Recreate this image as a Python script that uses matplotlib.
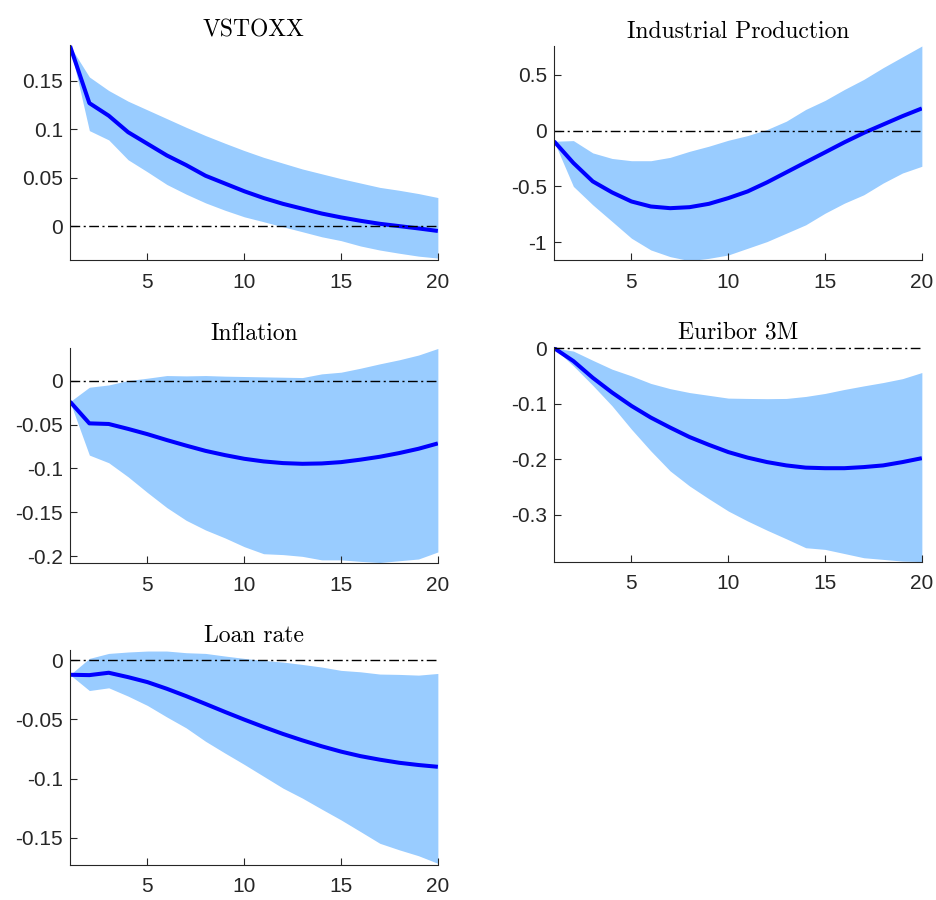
import matplotlib

matplotlib.use("Agg")
import matplotlib.pyplot as plt
import numpy as np
from matplotlib.ticker import FuncFormatter

plt.rcParams["axes.unicode_minus"] = False
plt.rcParams["font.family"] = ["Liberation Sans", "DejaVu Sans"]

horizon = np.arange(1, 21)

titles = ["VSTOXX", "Industrial Production", "Inflation", "Euribor 3M", "Loan rate"]

vstoxx_med = [0.186, 0.127, 0.114, 0.097, 0.085, 0.073, 0.063, 0.052, 0.044, 0.036,
              0.029, 0.023, 0.018, 0.013, 0.009, 0.0055, 0.0024, 0.0, -0.0024, -0.005]
vstoxx_hi = [0.186, 0.154, 0.140, 0.129, 0.120, 0.111, 0.102, 0.0935, 0.0856, 0.078,
             0.071, 0.065, 0.059, 0.054, 0.049, 0.0445, 0.040, 0.037, 0.0336, 0.0295]
vstoxx_lo = [0.186, 0.0986, 0.089, 0.0685, 0.056, 0.043, 0.033, 0.024, 0.0164, 0.0096,
             0.0045, -0.0007, -0.0058, -0.011, -0.015, -0.0205, -0.0247, -0.028, -0.031, -0.033]

ip_med = [-0.096, -0.29, -0.455, -0.554, -0.635, -0.68, -0.695, -0.686, -0.656, -0.605,
          -0.545, -0.464, -0.374, -0.284, -0.195, -0.105, -0.021, 0.054, 0.129, 0.198]
ip_hi = [-0.096, -0.09, -0.2, -0.25, -0.27, -0.27, -0.24, -0.186, -0.14, -0.087,
         -0.045, 0.009, 0.084, 0.189, 0.27, 0.368, 0.458, 0.563, 0.66, 0.757]
ip_lo = [-0.096, -0.5, -0.665, -0.814, -0.964, -1.069, -1.129, -1.165, -1.144, -1.114,
         -1.054, -0.994, -0.919, -0.844, -0.74, -0.65, -0.575, -0.47, -0.38, -0.32]

infl_med = [-0.024, -0.0487, -0.0494, -0.055, -0.061, -0.0677, -0.074, -0.080, -0.0848, -0.089,
            -0.092, -0.0939, -0.0947, -0.0943, -0.0928, -0.090, -0.0867, -0.0825, -0.0776, -0.0715]
infl_hi = [-0.024, -0.0076, -0.005, 0.0, 0.0027, 0.0057, 0.0053, 0.0057, 0.005, 0.0046,
           0.0042, 0.0038, 0.0034, 0.0076, 0.0095, 0.014, 0.019, 0.0236, 0.029, 0.0365]
infl_lo = [-0.024, -0.0848, -0.0935, -0.1095, -0.1274, -0.1445, -0.159, -0.170, -0.179, -0.189,
           -0.197, -0.198, -0.200, -0.204, -0.204, -0.2057, -0.207, -0.205, -0.203, -0.195]

eur_med = [0.0, -0.0234, -0.0534, -0.080, -0.104, -0.125, -0.143, -0.16, -0.174, -0.187,
           -0.197, -0.205, -0.211, -0.215, -0.216, -0.216, -0.214, -0.211, -0.205, -0.198]
eur_hi = [0.0, -0.0054, -0.022, -0.038, -0.050, -0.0636, -0.073, -0.080, -0.085, -0.090,
          -0.0906, -0.091, -0.0906, -0.087, -0.0816, -0.0744, -0.068, -0.062, -0.055, -0.044]
eur_lo = [0.0, -0.032, -0.067, -0.104, -0.146, -0.185, -0.221, -0.248, -0.271, -0.293,
          -0.311, -0.3275, -0.343, -0.359, -0.362, -0.3695, -0.377, -0.380, -0.383, -0.384]

loan_med = [-0.0124, -0.0127, -0.0107, -0.0144, -0.0186, -0.0242, -0.0304, -0.037, -0.0437, -0.0502,
            -0.0564, -0.0623, -0.0677, -0.0727, -0.0772, -0.081, -0.084, -0.0866, -0.0885, -0.090]
loan_hi = [-0.0124, 0.0014, 0.0056, 0.0068, 0.0076, 0.0076, 0.0062, 0.0056, 0.0034, 0.0014,
           -0.0003, -0.0017, -0.0037, -0.0059, -0.0087, -0.0099, -0.0118, -0.0121, -0.0127, -0.0113]
loan_lo = [-0.0124, -0.0257, -0.0234, -0.0304, -0.0383, -0.048, -0.0572, -0.0685, -0.0784, -0.088,
           -0.098, -0.108, -0.1164, -0.1257, -0.1348, -0.1446, -0.1545, -0.160, -0.165, -0.1714]

medians = [vstoxx_med, ip_med, infl_med, eur_med, loan_med]
uppers = [vstoxx_hi, ip_hi, infl_hi, eur_hi, loan_hi]
lowers = [vstoxx_lo, ip_lo, infl_lo, eur_lo, loan_lo]

yticks = [
    [0, 0.05, 0.1, 0.15],
    [-1, -0.5, 0, 0.5],
    [-0.2, -0.15, -0.1, -0.05, 0],
    [-0.3, -0.2, -0.1, 0],
    [-0.15, -0.1, -0.05, 0],
]
ylims = [(-0.035, 0.187), (-1.159, 0.757), (-0.2076, 0.037), (-0.3846, 0.002), (-0.1728, 0.0085)]

# axes rectangles in figure fractions (left, bottom, width, height)
positions = [
    (0.0748, 0.7111, 0.393, 0.2389),
    (0.5919, 0.7111, 0.393, 0.2378),
    (0.0748, 0.3744, 0.393, 0.2389),
    (0.5919, 0.3756, 0.393, 0.2389),
    (0.0748, 0.0389, 0.393, 0.2389),
]

fig = plt.figure(figsize=(9.36, 9.0), dpi=100)
fmt = FuncFormatter(lambda v, _: f"{v:g}")

for i in range(5):
    ax = fig.add_axes(positions[i])
    ax.fill_between(horizon, lowers[i], uppers[i], color="#99ccff", linewidth=0)
    ax.plot(horizon, medians[i], color="#0000ff", linewidth=2.9, solid_capstyle="butt")
    ax.plot(horizon, np.zeros(len(horizon)), color="black",
            linestyle=(0, (7, 2.5, 1.5, 2.5)), linewidth=1.0)
    ax.set_xlim(1, 20)
    ax.set_ylim(*ylims[i])
    ax.set_xticks([5, 10, 15, 20])
    ax.set_yticks(yticks[i])
    ax.yaxis.set_major_formatter(fmt)
    for side in ("top", "right"):
        ax.spines[side].set_visible(False)
    for side in ("left", "bottom"):
        ax.spines[side].set_color("#262626")
        ax.spines[side].set_linewidth(0.8)
    ax.tick_params(direction="in", length=5, width=0.8, colors="#262626", labelsize=15)
    ax.tick_params(axis="x", pad=9)
    ax.tick_params(axis="y", pad=5)
    ax.set_title(titles[i], fontfamily="cmr10", fontsize=17, pad=6)

fig.savefig("out.png", dpi=100)
plt.close(fig)
